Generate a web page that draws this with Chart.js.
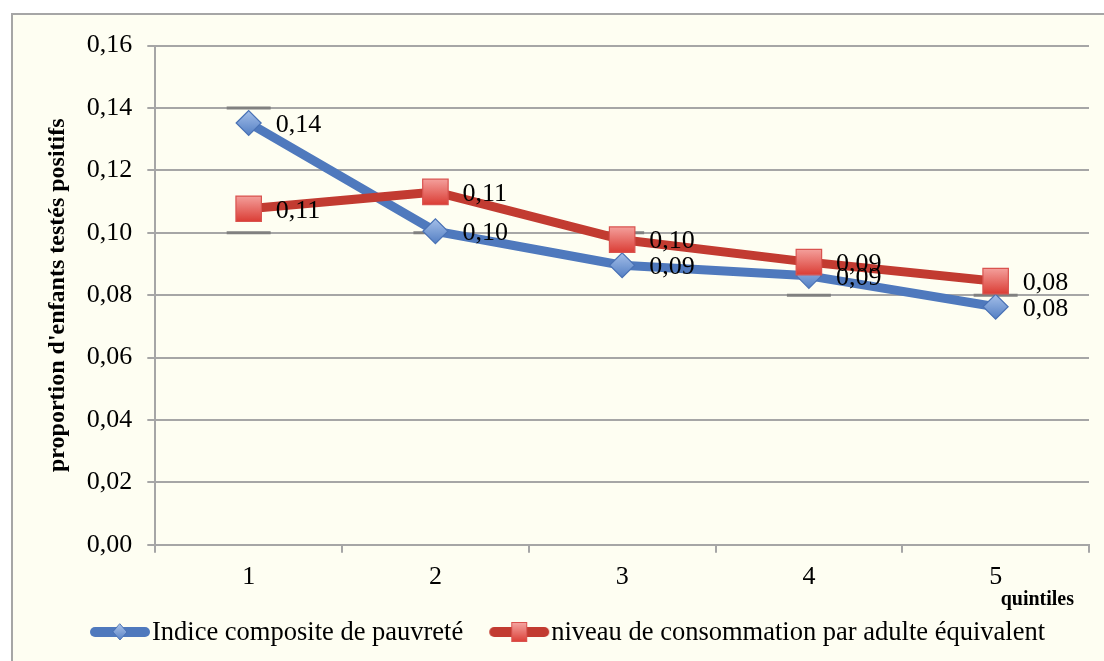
<!DOCTYPE html>
<html><head><meta charset="utf-8">
<script src="https://cdn.jsdelivr.net/npm/chart.js@4.4.1/dist/chart.umd.min.js"></script>
<style>
html,body{margin:0;padding:0;background:#fff;overflow:hidden;}
#box{position:absolute;left:11px;top:13px;width:1103px;height:648px;border-left:2px solid #A6A6A6;border-top:2px solid #A6A6A6;background:#FEFEF2;}
#c{display:block;}
</style></head><body>
<div id="box"><canvas id="c" width="1101" height="646"></canvas></div>
<script>
// ---- data ----
const categories = ['1', '2', '3', '4', '5'];
const seriesNames = ['Indice composite de pauvreté', 'niveau de consommation par adulte équivalent'];
const indiceComposite = [0.1352, 0.1005, 0.0896, 0.0862, 0.0763];
const niveauConsommation = [0.1077, 0.1131, 0.0978, 0.0906, 0.0845];
const yTicks = [0, 0.02, 0.04, 0.06, 0.08, 0.10, 0.12, 0.14, 0.16];
const refMarkCat = ['1', '1', '2', '3', '4', '5'];
const refMarkVal = [0.14, 0.10, 0.10, 0.10, 0.08, 0.08];
const yTitle = "proportion d'enfants testés positifs";
const xTitle = 'quintiles\u00a0\u00a0\u00a0';

const fmt = v => v.toFixed(2).replace('.', ',');
const SERIF = '"Liberation Serif", "Times New Roman", serif';
const BLUE = '#4F79BD', RED = '#C23B31', GRID = '#A6A6A6';

function gradFill(top, bottom, half) {
  return c => {
    const chart = c.chart, ys = chart.scales && chart.scales.y;
    if (!ys || typeof c.raw !== 'number') return bottom;
    const py = ys.getPixelForValue(c.raw);
    if (!isFinite(py)) return bottom;
    const g = chart.ctx.createLinearGradient(0, py - half, 0, py + half);
    g.addColorStop(0, top); g.addColorStop(1, bottom);
    return g;
  };
}

function legendSample(color, kind) {
  const cv = document.createElement('canvas');
  cv.width = 62; cv.height = 26;
  const x = cv.getContext('2d');
  x.strokeStyle = color; x.lineWidth = 10; x.lineCap = 'round';
  x.beginPath(); x.moveTo(6, 13); x.lineTo(56, 13); x.stroke();
  if (kind === 'diamond') {
    const g = x.createLinearGradient(0, 5, 0, 21);
    g.addColorStop(0, '#A9C1E8'); g.addColorStop(1, '#5A84C6');
    x.fillStyle = g; x.strokeStyle = '#4A72B5'; x.lineWidth = 1;
    x.beginPath(); x.moveTo(31, 5); x.lineTo(38, 13); x.lineTo(31, 21); x.lineTo(24, 13); x.closePath();
    x.fill(); x.stroke();
  } else {
    const g = x.createLinearGradient(0, 3, 0, 23);
    g.addColorStop(0, '#F5A8A4'); g.addColorStop(1, '#DB3E36');
    x.fillStyle = g; x.strokeStyle = '#D9534F'; x.lineWidth = 1;
    x.fillRect(23, 3, 16, 20); x.strokeRect(23.5, 3.5, 15, 19);
  }
  return cv;
}
const legendSamples = [legendSample(BLUE, 'diamond'), legendSample(RED, 'square')];

const dataLabels = {
  id: 'dataLabels',
  afterDatasetsDraw(chart) {
    const ctx = chart.ctx;
    ctx.save();
    ctx.font = '26px ' + SERIF;
    ctx.fillStyle = '#000';
    ctx.textAlign = 'left';
    ctx.textBaseline = 'middle';
    [0, 1].forEach(di => {
      const meta = chart.getDatasetMeta(di);
      const vals = chart.data.datasets[di].data;
      meta.data.forEach((pt, i) => ctx.fillText(fmt(vals[i]), pt.x + 27, pt.y + 2));
    });
    ctx.restore();
  }
};

const customLegend = {
  id: 'customLegend',
  afterDraw(chart, args, opts) {
    const ctx = chart.ctx;
    ctx.save();
    ctx.font = opts.font;
    ctx.fillStyle = '#000';
    ctx.textBaseline = 'middle';
    ctx.textAlign = 'left';
    const items = [0, 1].map(i => ({
      img: legendSamples[i], text: chart.data.datasets[i].label,
      w: ctx.measureText(chart.data.datasets[i].label).width
    }));
    let total = 0;
    items.forEach((it, i) => { total += it.img.width + opts.textGap + it.w + (i ? opts.itemGap : 0); });
    let x = opts.centerX - total / 2;
    items.forEach((it, i) => {
      if (i) x += opts.itemGap;
      ctx.drawImage(it.img, x, opts.y - it.img.height / 2);
      x += it.img.width + opts.textGap;
      ctx.fillText(it.text, x, opts.y + 1);
      x += it.w;
    });
    ctx.restore();
  }
};

new Chart(document.getElementById('c'), {
  type: 'line',
  data: {
    labels: categories,
    datasets: [
      {
        label: seriesNames[0], data: indiceComposite, order: 1,
        borderColor: BLUE, borderWidth: 9, borderJoinStyle: 'round', borderCapStyle: 'round', tension: 0,
        pointStyle: 'rectRot', pointRadius: 12.5, pointBorderWidth: 1.2, pointBorderColor: '#4A72B5',
        pointBackgroundColor: gradFill('#A3BEE8', '#5580C4', 12)
      },
      {
        label: seriesNames[1], data: niveauConsommation, order: 0,
        borderColor: RED, borderWidth: 9, borderJoinStyle: 'round', borderCapStyle: 'round', tension: 0,
        pointStyle: 'rect', pointRadius: 18, pointBorderWidth: 1.2, pointBorderColor: '#D9534F',
        pointBackgroundColor: gradFill('#F4A09C', '#DA3C34', 13)
      },
      {
        label: 'marks', order: 2, showLine: false,
        data: refMarkCat.map((c, i) => ({ x: c, y: refMarkVal[i] })),
        pointStyle: 'line', pointRadius: 22, pointBorderWidth: 3, pointBorderColor: '#808080',
        pointBackgroundColor: '#808080'
      }
    ]
  },
  options: {
    responsive: false, animation: false, devicePixelRatio: 1, events: [],
    layout: { padding: { left: 26, right: 5, top: 27, bottom: 49 } },
    plugins: {
      legend: { display: false }, tooltip: { enabled: false },
      customLegend: { font: '26.5px ' + SERIF, centerX: 554, y: 617, textGap: 1, itemGap: 25 }
    },
    scales: {
      x: {
        type: 'category', offset: true,
        grid: { drawOnChartArea: false, drawTicks: true, tickLength: 8, color: GRID, lineWidth: 2, offset: true },
        border: { display: true, color: GRID, width: 2 },
        ticks: { font: { family: SERIF, size: 26 }, color: '#000', padding: 9, maxRotation: 0 },
        title: { display: true, text: xTitle, align: 'end', color: '#000',
          font: { family: SERIF, size: 20, weight: 'bold' }, padding: { top: -14, bottom: 0 } }
      },
      y: {
        min: 0, max: 0.16,
        afterBuildTicks: s => { s.ticks = yTicks.map(v => ({ value: v })); },
        grid: { color: GRID, lineWidth: 2, tickLength: 8, drawTicks: true },
        border: { display: true, color: GRID, width: 2 },
        ticks: { font: { family: SERIF, size: 26 }, color: '#000', padding: 15, callback: v => fmt(v) },
        title: { display: true, text: yTitle, color: '#000',
          font: { family: SERIF, size: 24, weight: 'bold' }, padding: { top: 4, bottom: 0 } }
      }
    }
  },
  plugins: [dataLabels, customLegend]
});
</script>
</body></html>
